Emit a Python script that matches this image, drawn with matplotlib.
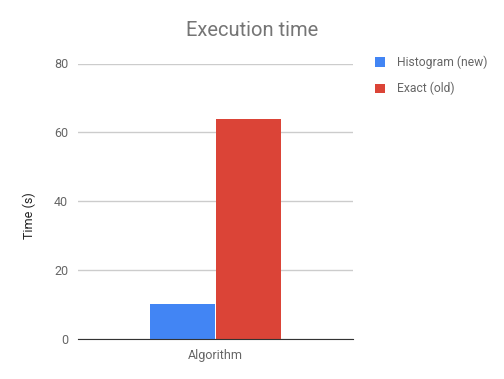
import matplotlib
matplotlib.use('Agg')
import matplotlib.pyplot as plt
from matplotlib.patches import Patch

plt.rcParams['font.family'] = ['Roboto', 'DejaVu Sans']

category = 'Algorithm'
series_names = ['Histogram (new)', 'Exact (old)']
series_values = [10.3, 64.0]
series_colors = ['#4285f4', '#db4437']
y_ticks = [0, 20, 40, 60, 80]

fig = plt.figure(figsize=(5.04, 3.79), dpi=100)
ax = fig.add_axes([78 / 504, 40 / 379, 275 / 504, 275.5 / 379])

offsets = [-0.121, 0.121]
for name, val, col, off in zip(series_names, series_values, series_colors, offsets):
    ax.bar(off, val, width=0.236, color=col, label=name, zorder=3)

ax.set_xlim(-0.5, 0.5)
ax.set_ylim(0, 80)
ax.set_yticks(y_ticks)
ax.set_yticklabels([str(t) for t in y_ticks], color='#666666', fontsize=9)
ax.set_xticks([0])
ax.set_xticklabels([category], color='#666666', fontsize=9)
ax.tick_params(length=0, pad=7)
ax.grid(axis='y', color='#cccccc', linewidth=1, zorder=0)
for s in ['top', 'right', 'left']:
    ax.spines[s].set_visible(False)
ax.spines['bottom'].set_color('#333333')
ax.spines['bottom'].set_zorder(4)

fig.text(252 / 504, 1 - 31 / 379, 'Execution time', ha='center', va='center',
         fontsize=14.5, color='#757575')
fig.text(29 / 504, 1 - 216 / 379, 'Time (s)', rotation=90, ha='center', va='center',
         fontsize=9, color='#222222')

handles = [Patch(facecolor=c, edgecolor='none') for c in series_colors]
fig.legend(handles, series_names, loc='upper left', bbox_to_anchor=(364 / 504, 1 - 45 / 379),
           frameon=False, fontsize=8.7, handlelength=0.8, handleheight=0.8,
           handletextpad=1.0, labelspacing=1.05, labelcolor='#666666')

fig.savefig('out.png', dpi=100)
